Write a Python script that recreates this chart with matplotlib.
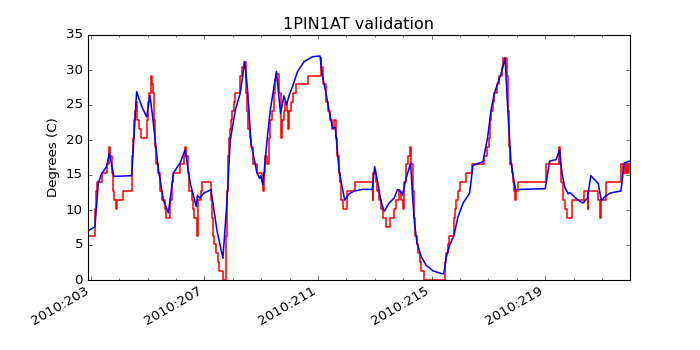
import numpy as np
import matplotlib
matplotlib.use('Agg')
import matplotlib.pyplot as plt
from matplotlib.ticker import MultipleLocator, FuncFormatter

# telemetry (quantized, drawn as steps): day of year 2010, degC
tlm_day = [202.85, 203.14, 203.18, 203.22, 203.375, 203.55, 203.62, 203.66, 203.76, 203.79,
           203.82, 203.89, 203.91, 204.12, 204.43, 204.46, 204.49, 204.52, 204.55, 204.60,
           204.63, 204.71, 204.77, 204.97, 205.01, 205.04, 205.11, 205.14, 205.17, 205.21,
           205.26, 205.31, 205.38, 205.43, 205.49, 205.61, 205.65, 205.77, 205.84, 205.88,
           206.14, 206.27, 206.31, 206.34, 206.42, 206.47, 206.55, 206.59, 206.64, 206.74,
           206.77, 206.87, 206.91, 207.23, 207.26, 207.30, 207.34, 207.40, 207.46, 207.50,
           207.64, 207.75, 207.77, 207.80, 207.83, 207.86, 207.89, 207.94, 207.97, 208.03,
           208.09, 208.26, 208.33, 208.38, 208.45, 208.50, 208.55, 208.59, 208.64, 208.71,
           208.85, 209.03, 209.07, 209.10, 209.13, 209.20, 209.26, 209.32, 209.38, 209.44,
           209.50, 209.53, 209.62, 209.68, 209.70, 209.735, 209.79, 209.85, 209.91, 209.95,
           209.98, 210.05, 210.12, 210.24, 210.64, 211.09, 211.12, 211.18, 211.27, 211.35,
           211.42, 211.51, 211.56, 211.62, 211.68, 211.74, 211.77, 211.82, 211.89, 212.01,
           212.29, 212.94, 212.95, 213.03, 213.07, 213.15, 213.23, 213.30, 213.39, 213.54,
           213.66, 213.74, 213.86, 213.92, 214.00, 214.02, 214.09, 214.18, 214.23, 214.29,
           214.34, 214.39, 214.43, 214.48, 214.53, 214.58, 214.62, 214.74, 215.47, 215.52,
           215.565, 215.62, 215.80, 215.825, 215.86, 215.92, 216.01, 216.21, 216.41, 216.84,
           216.96, 217.01, 217.06, 217.11, 217.16, 217.21, 217.31, 217.39, 217.485, 217.53,
           217.64, 217.685, 217.73, 217.78, 217.83, 217.87, 217.92, 217.945, 217.98, 218.04,
           219.04, 219.48, 219.52, 219.57, 219.64, 219.69, 219.77, 219.95, 220.37, 220.50,
           220.525, 220.88, 220.94, 220.96, 221.15, 221.69, 221.76, 221.81, 221.84, 221.88,
           221.93, 221.96, 222.0]
tlm_val = [6.35, 10.16, 12.70, 13.97, 15.24, 16.51, 19.05, 17.78, 15.24, 12.70,
           11.43, 10.16, 11.43, 12.70, 15.24, 17.78, 20.32, 22.86, 24.13, 25.40,
           22.86, 21.59, 20.32, 22.86, 25.40, 26.67, 29.21, 27.94, 26.67, 22.86,
           19.05, 16.51, 15.24, 12.70, 11.43, 10.16, 8.89, 11.43, 13.97, 15.24,
           16.51, 17.78, 19.05, 17.78, 15.24, 12.70, 11.43, 10.16, 8.89, 6.35,
           11.43, 12.70, 13.97, 11.43, 8.89, 6.35, 5.08, 3.81, 2.54, 1.27,
           0.0, 2.54, 6.35, 12.70, 17.78, 20.32, 21.59, 22.86, 24.13, 25.40,
           26.67, 29.21, 30.48, 31.20, 26.67, 24.13, 21.59, 20.32, 19.05, 16.51,
           15.24, 13.97, 12.70, 15.24, 17.78, 16.51, 20.32, 22.86, 24.13, 26.67,
           28.57, 29.50, 26.67, 22.86, 20.32, 22.86, 24.13, 25.40, 24.13, 21.59,
           24.13, 25.40, 26.67, 27.94, 29.21, 31.75, 30.48, 27.94, 25.40, 24.13,
           22.86, 21.59, 22.86, 20.32, 17.78, 15.24, 13.97, 11.43, 10.16, 12.70,
           13.97, 11.43, 15.24, 13.97, 12.70, 11.43, 10.16, 8.89, 7.62, 8.89,
           10.16, 11.43, 12.70, 11.43, 10.16, 13.97, 16.51, 17.78, 19.05, 16.51,
           12.70, 8.89, 6.35, 5.08, 3.81, 2.54, 1.27, 0.0, 2.54, 3.81,
           5.08, 6.35, 8.89, 10.16, 11.43, 12.70, 13.97, 15.24, 16.51, 17.78,
           19.05, 20.32, 22.86, 24.13, 25.40, 26.67, 27.94, 29.21, 30.48, 31.75,
           29.21, 24.13, 19.05, 16.51, 15.24, 13.97, 12.70, 11.43, 12.70, 13.97,
           16.51, 19.05, 16.51, 13.97, 11.43, 10.16, 8.89, 11.43, 12.70, 10.16,
           12.70, 11.43, 8.89, 11.43, 13.97, 16.51, 15.24, 16.51, 15.24, 16.51,
           15.24, 16.51, 16.51]

# model prediction
mod_day = [202.845, 203.14, 203.26, 203.375, 203.55, 203.65, 203.81, 204.435, 204.61, 204.79,
           204.965, 205.08, 205.20, 205.38, 205.555, 205.73, 205.91, 206.085, 206.14, 206.32,
           206.50, 206.71, 206.755, 206.83, 206.97, 207.23, 207.44, 207.65, 207.79, 207.91,
           208.09, 208.26, 208.42, 208.52, 208.64, 208.85, 208.945, 208.99, 209.06, 209.205,
           209.32, 209.535, 209.68, 209.80, 209.89, 210.00, 210.10, 210.28, 210.51, 210.81,
           211.07, 211.14, 211.28, 211.40, 211.51, 211.61, 211.74, 211.94, 212.09, 212.27,
           212.56, 212.915, 212.995, 213.09, 213.21, 213.33, 213.505, 213.68, 213.80, 213.86,
           213.975, 214.09, 214.26, 214.34, 214.40, 214.49, 214.64, 214.81, 215.05, 215.28,
           215.43, 215.52, 215.64, 215.79, 215.93, 216.11, 216.34, 216.46, 216.81, 216.98,
           217.095, 217.215, 217.33, 217.45, 217.59, 217.685, 217.80, 217.955, 218.16, 219.005,
           219.16, 219.39, 219.51, 219.595, 219.69, 219.81, 219.865, 219.98, 220.16, 220.335,
           220.49, 220.61, 220.75, 220.87, 220.985, 221.10, 221.28, 221.51, 221.67, 221.785,
           221.985]
mod_val = [6.9, 7.6, 13.8, 15.2, 16.2, 18.1, 14.8, 14.9, 26.9, 24.8,
           23.3, 26.4, 22.4, 15.7, 11.4, 9.6, 15.3, 16.4, 16.7, 18.6,
           13.8, 10.5, 12.1, 11.7, 12.4, 12.9, 7.1, 3.1, 11.0, 20.0,
           24.3, 26.7, 31.2, 27.1, 19.5, 15.3, 14.5, 14.9, 13.6, 20.0,
           24.3, 29.8, 23.8, 26.3, 25.0, 26.6, 27.6, 29.8, 31.2, 31.9,
           32.0, 29.5, 26.7, 24.0, 21.7, 21.8, 15.7, 11.4, 12.3, 12.7,
           12.95, 12.95, 16.2, 14.3, 11.4, 9.8, 11.0, 11.7, 12.9, 12.9,
           12.1, 14.3, 16.7, 11.4, 8.1, 5.2, 3.3, 2.1, 1.3, 1.0,
           0.86, 3.3, 5.0, 6.4, 9.0, 11.0, 12.4, 16.4, 16.9, 20.5,
           24.3, 26.7, 28.1, 29.5, 31.7, 24.3, 16.7, 12.9, 12.95, 13.05,
           17.0, 17.2, 18.6, 15.2, 13.3, 12.3, 12.5, 12.1, 11.4, 11.0,
           11.7, 14.9, 14.3, 13.8, 11.3, 11.9, 12.4, 12.6, 12.7, 16.7,
           17.0]

tick_days = [203, 207, 211, 215, 219]

plt.style.use('classic')
fig = plt.figure(figsize=(8.75, 4.375), dpi=80, facecolor='white')
ax = fig.add_subplot(111)

ax.plot(tlm_day, tlm_val, color='r', drawstyle='steps-post', lw=1.4)
ax.plot(mod_day, mod_val, color='b', lw=1.4)

ax.set_xlim(202.88, 221.99)
ax.set_ylim(0, 35)
ax.set_xticks(tick_days)
ax.xaxis.set_minor_locator(MultipleLocator(1))
ax.xaxis.set_major_formatter(FuncFormatter(lambda x, pos: '2010:%03d' % int(round(x))))
ax.set_title('1PIN1AT validation')
ax.set_ylabel('Degrees (C)')
fig.autofmt_xdate()

fig.savefig('out.png', dpi=80, facecolor='white')
